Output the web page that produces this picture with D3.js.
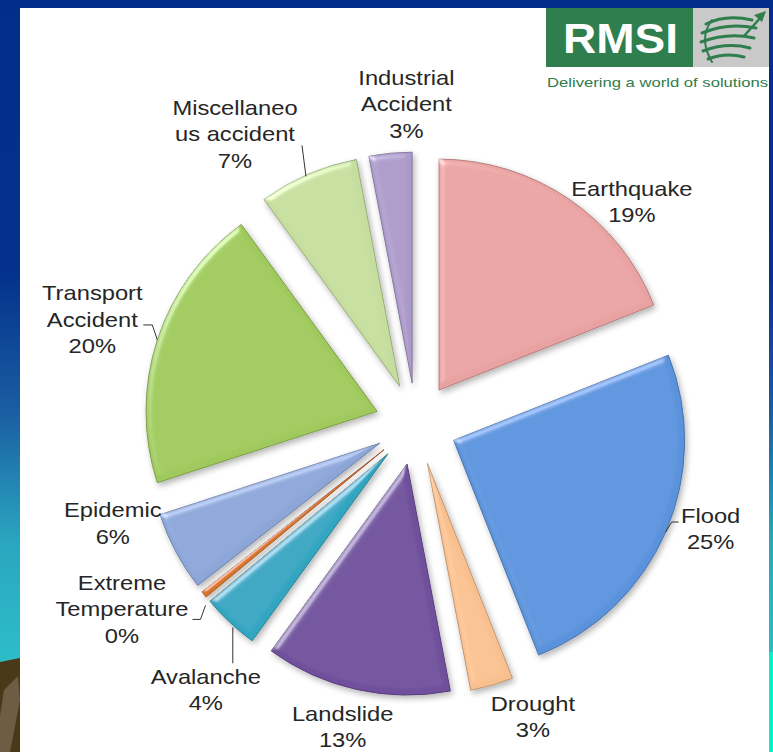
<!DOCTYPE html>
<html>
<head>
<meta charset="utf-8">
<script src="https://cdn.jsdelivr.net/npm/d3@7"></script>
<style>
  body { margin: 0; background: #fff; }
  svg { display: block; }
  .lbl { font-family: "Liberation Sans", Arial, sans-serif; font-size: 21px; fill: #262626; }
</style>
</head>
<body>
<div id="chart"></div>
<script>
// disaster share by type (clockwise from 12 o'clock)
var categories = ["Earthquake", "Flood", "Drought", "Landslide", "Avalanche",
  "Extreme Temperature", "Epidemic", "Transport Accident", "Miscellaneous accident", "Industrial Accident"];
var values = [19, 25, 3, 13, 4, 0.45, 5.55, 20, 7, 3];
var percentLabels = ["19%", "25%", "3%", "13%", "4%", "0%", "6%", "20%", "7%", "3%"];
var labelLines = [["Earthquake"], ["Flood"], ["Drought"], ["Landslide"], ["Avalanche"],
  ["Extreme", "Temperature"], ["Epidemic"], ["Transport", "Accident"], ["Miscellaneo", "us accident"], ["Industrial", "Accident"]];

var colors = ["#e8a2a1", "#5a93dc", "#f9c08f", "#6f4f9c", "#33a5c1",
  "#d8742a", "#8ca6d8", "#9fc95b", "#c5dd9d", "#ab99c9"];

// label block offset from the outer mid point of each slice, and leader lines
var labelOffset = [[63, -11], [45, -17], [41, 18], [-14, 24], [-24, 54],
  [-82, -12], [-63, -42], [-65, -47], [-73, -67], [16, -76]];
var leaders = [null, [[0, 0], [6, -10], [13, -10]], null, null, [[3, 5], [3, 41]],
  [[1.5, 11], [-3.5, 25], [-11.5, 25]], null, [[0, 0], [-5, -15], [-14, -15]], [[-2, 2], [-6, -29]], null];

var svgWidth = 773, svgHeight = 752;
var cx = 416, cy = 424, radius = 231, explode = 41;

var svg = d3.select("#chart").append("svg")
  .attr("width", svgWidth)
  .attr("height", svgHeight);

var defs = svg.append("defs");

var bg = defs.append("linearGradient").attr("id", "bgGrad")
  .attr("x1", 0).attr("y1", 0).attr("x2", 0).attr("y2", 1);
[[0, "#002e88"], [0.36, "#03318c"], [0.55, "#1b5ea2"], [0.72, "#2aa6c0"], [0.87, "#2cbcc8"], [1, "#2cbcc8"]]
  .forEach(function(s) { bg.append("stop").attr("offset", s[0]).attr("stop-color", s[1]); });

var bevel = defs.append("filter").attr("id", "bevel")
  .attr("x", "-10%").attr("y", "-10%").attr("width", "130%").attr("height", "130%");
bevel.append("feGaussianBlur").attr("in", "SourceAlpha").attr("stdDeviation", 3).attr("result", "blur");
var spec = bevel.append("feSpecularLighting").attr("in", "blur").attr("surfaceScale", 3)
  .attr("specularConstant", 0.7).attr("specularExponent", 30).attr("lighting-color", "#ffffff").attr("result", "spec");
spec.append("feDistantLight").attr("azimuth", 225).attr("elevation", 40);
bevel.append("feComposite").attr("in", "spec").attr("in2", "SourceAlpha").attr("operator", "in").attr("result", "specIn");
bevel.append("feComposite").attr("in", "SourceGraphic").attr("in2", "specIn").attr("operator", "arithmetic")
  .attr("k1", 0).attr("k2", 1).attr("k3", 0.6).attr("k4", 0).attr("result", "lit");
bevel.append("feGaussianBlur").attr("in", "SourceAlpha").attr("stdDeviation", 3).attr("result", "sb");
bevel.append("feOffset").attr("in", "sb").attr("dx", 2).attr("dy", 3).attr("result", "so");
bevel.append("feComponentTransfer").attr("in", "so").attr("result", "shadow")
  .append("feFuncA").attr("type", "linear").attr("slope", 0.3);
var merge = bevel.append("feMerge");
merge.append("feMergeNode").attr("in", "shadow");
merge.append("feMergeNode").attr("in", "lit");

// background
svg.append("rect").attr("width", svgWidth).attr("height", svgHeight).attr("fill", "url(#bgGrad)");
svg.append("path").attr("d", "M0,662 L20,658 L20,752 L0,752 Z").attr("fill", "#4a3819");
svg.append("path").attr("d", "M4,690 L18,676 L20,700 L10,752 L0,752 L0,716 Z").attr("fill", "#6e5d43");
svg.append("rect").attr("x", 767).attr("y", 652).attr("width", 6).attr("height", 100).attr("fill", "#00f2d2");
svg.append("rect").attr("x", 20).attr("y", 8).attr("width", 749).attr("height", 744).attr("fill", "#ffffff");

// logo
var logo = svg.append("g");
logo.append("rect").attr("x", 546).attr("y", 8).attr("width", 147).attr("height", 59).attr("fill", "#2e7e4e");
logo.append("rect").attr("x", 693).attr("y", 8).attr("width", 76).attr("height", 59).attr("fill", "#c9c9c9");
logo.append("text").attr("x", 563).attr("y", 53)
  .attr("textLength", 115).attr("lengthAdjust", "spacingAndGlyphs")
  .style("font-family", "Liberation Sans, Arial, sans-serif").style("font-weight", "bold")
  .style("font-size", "42px").style("fill", "#fff").text("RMSI");
logo.append("text").attr("x", 547).attr("y", 87)
  .attr("textLength", 221).attr("lengthAdjust", "spacingAndGlyphs")
  .style("font-family", "Liberation Sans, Arial, sans-serif")
  .style("font-size", "13px").style("fill", "#2f7d4c").text("Delivering a world of solutions");
var globe = logo.append("g").attr("fill", "none").attr("stroke", "#2e7e4e").attr("stroke-linecap", "round");
["M706,24 Q726,14 752,20", "M702,33 Q728,22 756,28", "M701,42 Q728,32 754,38",
 "M703,51 Q727,42 750,48", "M708,59 Q726,52 744,57"].forEach(function(p) {
  globe.append("path").attr("d", p).attr("stroke-width", 3);
});
globe.append("path").attr("d", "M712,20 Q698,38 712,62").attr("stroke-width", 2);
globe.append("path").attr("d", "M744,36 L762,16").attr("stroke-width", 2.5);
logo.append("path").attr("d", "M766,11 L754,15 L762,22 Z").attr("fill", "#2e7e4e");

// pie
var pie = d3.pie().sort(null).value(function(d) { return d; });
var arcs = pie(values);
var arc = d3.arc().innerRadius(0).outerRadius(radius);

function mid(d) { return (d.startAngle + d.endAngle) / 2; }
function outerMid(d) {
  var a = mid(d), rr = radius + explode;
  return [cx + rr * Math.sin(a), cy - rr * Math.cos(a)];
}

var chart = svg.append("g");

chart.selectAll("path.slice")
  .data(arcs)
  .enter().append("path")
  .attr("class", "slice")
  .attr("transform", function(d) {
    var a = mid(d);
    return "translate(" + (cx + explode * Math.sin(a)) + "," + (cy - explode * Math.cos(a)) + ")";
  })
  .attr("d", arc)
  .attr("fill", function(d, i) { return colors[i]; })
  .attr("stroke", function(d, i) { return d3.color(colors[i]).darker(0.7); })
  .attr("stroke-width", 1)
  .attr("filter", "url(#bevel)");

// leader lines
var line = d3.line();
chart.selectAll("path.leader")
  .data(arcs.filter(function(d, i) { return leaders[i]; }))
  .enter().append("path")
  .attr("class", "leader")
  .attr("fill", "none")
  .attr("stroke", "#333")
  .attr("stroke-width", 1)
  .attr("d", function(d) {
    var p = outerMid(d);
    return line(leaders[d.index].map(function(o) { return [p[0] + o[0], p[1] + o[1]]; }));
  });

// labels
var lineH = 26.5;
var labels = chart.selectAll("g.label")
  .data(arcs)
  .enter().append("g")
  .attr("class", "label")
  .attr("transform", function(d, i) {
    var p = outerMid(d);
    return "translate(" + (p[0] + labelOffset[i][0]) + "," + (p[1] + labelOffset[i][1]) + ") scale(1.13,1)";
  });

labels.append("text")
  .attr("class", "lbl")
  .attr("text-anchor", "middle")
  .each(function(d, i) {
    var t = d3.select(this);
    labelLines[i].concat([percentLabels[i]]).forEach(function(s, k) {
      t.append("tspan").attr("x", 0).attr("y", 7.5 + k * lineH).text(s);
    });
  });
</script>
</body>
</html>
